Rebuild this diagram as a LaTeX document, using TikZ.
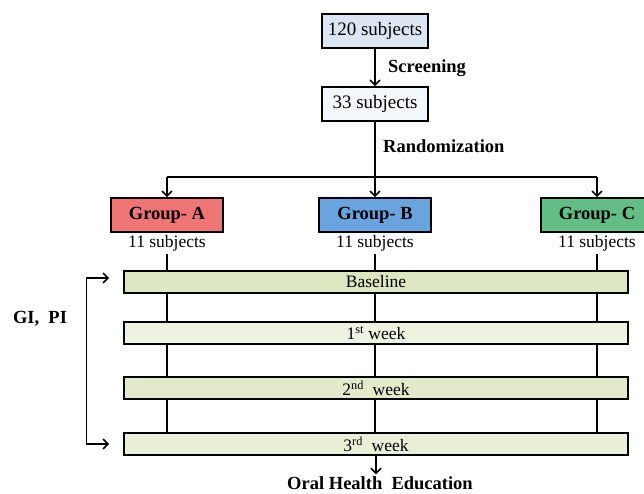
\documentclass[tikz,border=0pt]{standalone}
\usepackage{fontspec}
\setmainfont{Liberation Serif}
\usetikzlibrary{arrows.meta,positioning}
\definecolor{cfscreen}{RGB}{220,230,242}
\definecolor{cfelig}{RGB}{243,246,250}
\definecolor{cfgrpa}{RGB}{240,118,118}
\definecolor{cfgrpb}{RGB}{106,164,222}
\definecolor{cfgrpc}{RGB}{98,190,132}
\definecolor{cfbase}{RGB}{220,230,192}
\definecolor{cfweeka}{RGB}{238,242,224}
\definecolor{cfweekb}{RGB}{226,234,203}
\definecolor{cfweekc}{RGB}{234,240,216}

\begin{document}
\begin{tikzpicture}[x=1pt, y=-1pt, font=\fontsize{17.5}{20}\selectfont,
  >={Straight Barb[length=5pt,width=10pt,line width=1.6pt]},
  box/.style={draw, line width=1.6pt, minimum width=106pt, minimum height=34pt, inner sep=0pt},
  bar/.style={draw, line width=1.6pt, minimum width=504pt, minimum height=22pt, inner sep=0pt},
  lbl/.style={font=\fontsize{18.5}{20}\selectfont\bfseries, inner sep=0pt},
  conn/.style={line width=1.4pt},
  arr/.style={conn, ->}]
  \useasboundingbox (0,0) rectangle (644,493);
  % screening and randomization
  \node[box, fill=cfscreen, font=\fontsize{19}{20}\selectfont] (all) at (375,31) {120 subjects};
  \node[box, fill=cfelig, font=\fontsize{19}{20}\selectfont] (elig) at (375,104) {33 subjects};
  \draw[arr] (all) -- (elig);
  \node[lbl, anchor=west] (scr) at (388,68) {Screening};
  \coordinate (split) at (375,177);
  \draw[conn] (elig) -- (split);
  \node[lbl, anchor=west] (rnd) at (383,146) {Randomization};
  \foreach \g/\x/\c in {A/167/cfgrpa, B/375/cfgrpb, C/597/cfgrpc} {
    \node[box, fill=\c, minimum width=112pt, font=\fontsize{18.5}{20}\selectfont\bfseries] (grp\g) at (\x,215) {Group- \g};
    \node[inner sep=0pt] (sub\g) at (\x,243) {11 subjects};
    \draw[arr] (split -| grp\g) -- (grp\g);
  }
  \draw[conn] (split -| grpA) -- (split -| grpC);
  % follow-up visits
  \foreach \i/\y/\c/\t in {0/282/cfbase/{Baseline}, 1/333/cfweeka/{1\textsuperscript{st} week},
      2/388/cfweekb/{2\textsuperscript{nd}~ week}, 3/444/cfweekc/{3\textsuperscript{rd}~ week}}
    \node[bar, fill=\c] (wk\i) at (376,\y) {\t};
  \foreach \g in {A,B,C} {
    \draw[conn] ([yshift=-3pt]sub\g.south) -- (sub\g |- wk0.north);
    \foreach \i/\j in {0/1,1/2,2/3}
      \draw[conn] (wk\i.south -| grp\g) -- (wk\j.north -| grp\g);
  }
  \node[lbl] (gipi) at (40,319) {GI,~ PI};
  \draw[conn, <->] ([xshift=-14pt,yshift=4pt]wk0.west) -- ++(-23,0) |- ([xshift=-14pt]wk3.west);
  \node[lbl] (ohe) at (380,483) {Oral Health~ Education};
  \draw[arr] (wk3.south) -- ([yshift=2pt]wk3.south |- ohe.north);
\end{tikzpicture}
\end{document}
